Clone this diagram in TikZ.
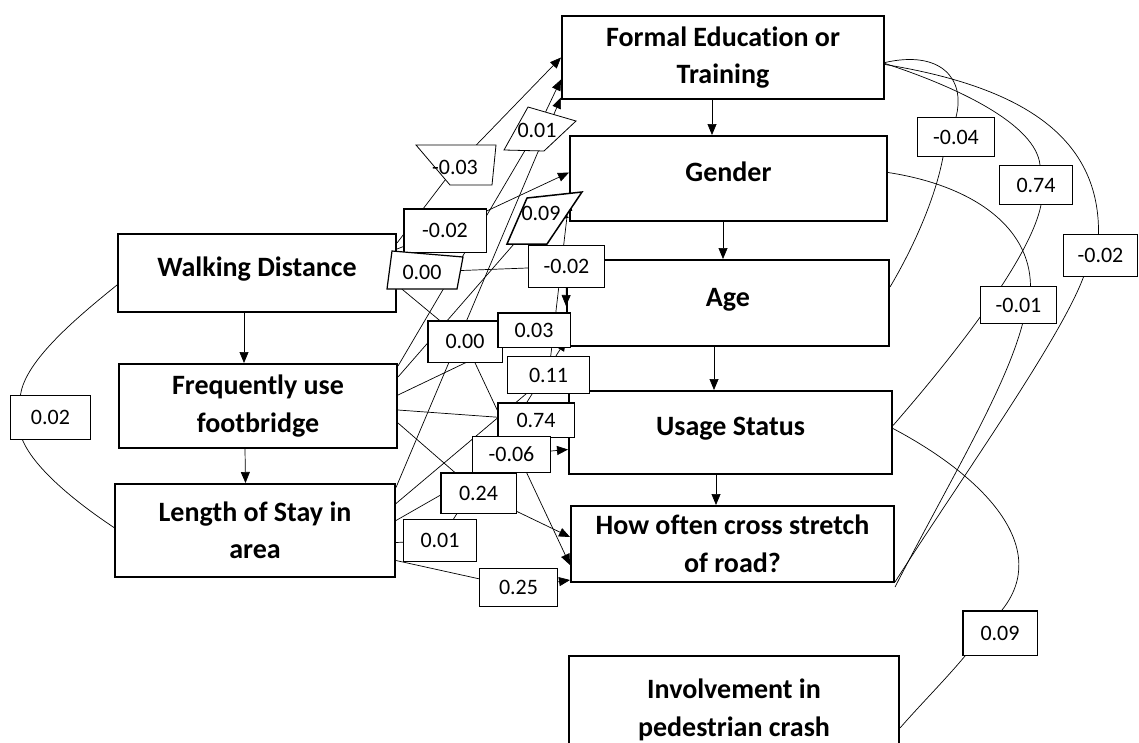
\documentclass[tikz,border=0pt]{standalone}
\usepackage{fontspec}
\setmainfont{Carlito}[Ligatures=NoCommon]
\usetikzlibrary{arrows.meta,backgrounds}

\begin{document}
\begin{tikzpicture}[x=1pt,y=-1pt,
  var/.style={draw,line width=2.2pt,inner sep=0pt,align=center,
    font=\fontsize{28}{37.5}\selectfont\bfseries},
  onel/.style={text height=20pt,text depth=14pt},
  coef/.style={draw,fill=white,line width=0.8pt,inner sep=0pt,
    font=\fontsize{22}{26}\selectfont},
  coefb/.style={coef,line width=1.5pt},
  coefpoly/.style={draw,fill=white,line width=0.8pt},
  coeftxt/.style={inner sep=0pt,font=\fontsize{22}{26}\selectfont},
  effect/.style={line width=0.7pt,-{Triangle[length=11pt,width=9pt]}},
  link/.style={line width=0.7pt}
]
\useasboundingbox (0,0) rectangle (1139,742);

% right column
\node[var,minimum width=321.8pt,minimum height=82.8pt] (formal) at (723,57.5) {Formal Education or\\Training};
\node[var,onel,minimum width=316.8pt,minimum height=84.8pt] (gender) at (728.5,178.5) {Gender};
\node[var,onel,minimum width=321.8pt,minimum height=85.8pt] (age) at (728,303) {Age};
\node[var,onel,minimum width=322.8pt,minimum height=82.8pt] (usage) at (730.5,432.5) {Usage Status};
\node[var,minimum width=322.8pt,minimum height=75.8pt] (howoften) at (732.5,544) {How often cross stretch\\of road?};
\node[var,minimum width=329.8pt,minimum height=107.8pt] (involve) at (734,710) {Involvement in\\pedestrian crash};

% left column
\node[var,onel,minimum width=277.8pt,minimum height=77.8pt] (wd) at (257,273) {Walking Distance};
\node[var,minimum width=277.8pt,minimum height=83.8pt] (fuf) at (258,406) {Frequently use\\footbridge};
\node[var,minimum width=279.8pt,minimum height=92.8pt] (lsa) at (255,530.5) {Length of Stay in\\area};

% coefficients, middle
\draw[coefpoly] (416,145) -- (496,145) -- (492,185) -- (450,185) -- cycle;
\node[coeftxt] (l1) at (455,167) {-0.03};
\draw[coefpoly] (528,107) -- (576,121) -- (544,151) -- (504,150) -- cycle;
\node[coeftxt] (l2) at (537,130) {0.01};
\node[coefb,minimum width=82.5pt,minimum height=43.5pt] (l3) at (445,230.5) {-0.02};
\draw[coefpoly,line width=1.2pt] (392,251) -- (463,257) -- (457,289) -- (387,289) -- cycle;
\node[coeftxt] (l4) at (422,272) {0.00};
\draw[coefpoly,line width=1.5pt] (527,198) -- (582,192) -- (547,244) -- (507,244) -- cycle;
\node[coeftxt] (l5) at (541,213) {0.09};
\node[coef,minimum width=76pt,minimum height=42pt] (l6) at (566.5,266.5) {-0.02};
\node[coefb,minimum width=74.5pt,minimum height=41.5pt] (l7) at (465,341.5) {0.00};
\node[coefb,minimum width=72.5pt,minimum height=34.5pt] (l8) at (534,330) {0.03};
\node[coef,minimum width=82pt,minimum height=37pt] (l9) at (548.5,375) {0.11};
\node[coefb,minimum width=76.5pt,minimum height=34.5pt] (l10) at (536,420) {0.74};
\node[coef,minimum width=78pt,minimum height=36pt] (l11) at (511.5,454.5) {-0.06};
\node[coefb,minimum width=75.5pt,minimum height=40.5pt] (l12) at (478.5,493) {0.24};
\node[coef,minimum width=73pt,minimum height=42pt] (l13) at (440,540.5) {0.01};
\node[coef,minimum width=78pt,minimum height=38pt] (l14) at (518.5,587.5) {0.25};

% coefficients, sides
\node[coef,minimum width=80pt,minimum height=44pt] (c0) at (50.5,417.5) {0.02};
\node[coef,minimum width=77pt,minimum height=39pt] (r1) at (956,137) {-0.04};
\node[coef,minimum width=73pt,minimum height=39pt] (r2) at (1036,185) {0.74};
\node[coef,minimum width=74pt,minimum height=42pt] (r3) at (1100.5,255.5) {-0.02};
\node[coef,minimum width=76pt,minimum height=37pt] (r4) at (1018.5,305) {-0.01};
\node[coefb,minimum width=74.5pt,minimum height=44.5pt] (r5) at (1000,633) {0.09};

\begin{scope}[on background layer]
% chain arrows
\draw[effect] ([xshift=-11pt]formal.south) -- ([xshift=-16.5pt]gender.north);
\draw[effect] ([xshift=-5.5pt]gender.south) -- ([xshift=-5pt]age.north);
\draw[effect] ([xshift=-14pt]age.south) -- ([xshift=-16.5pt]usage.north);
\draw[effect] ([xshift=-14.5pt]usage.south) -- ([xshift=-16.5pt]howoften.north);
\draw[effect] ([xshift=-13pt]wd.south) -- ([xshift=-14pt]fuf.north);
\draw[effect] ([xshift=-13pt]fuf.south) -- ([xshift=-9.5pt]lsa.north);

% walking distance
\draw[effect] ([yshift=30pt]wd.east) -- (l1.center) -- (formal.west);
\draw[effect] ([yshift=24pt]wd.east) -- (l3.center) -- ([yshift=6pt]gender.west);
\draw[effect] ([yshift=5pt]wd.east) -- (l4.center) -- (l6.center) -- ([yshift=-3pt]age.west);
\draw[effect] ([yshift=-12pt]wd.east) -- (l7.center) -- ([yshift=-21pt]howoften.west);
% frequently use footbridge
\draw[effect] ([yshift=40pt]fuf.east) -- (l2.center) -- ([yshift=-22pt]formal.west);
\draw[effect] ([yshift=29pt]fuf.east) -- (l5.center) -- ([yshift=-39pt]gender.west);
\draw[effect] ([yshift=11pt]fuf.east) -- (l8.center) -- ([yshift=-27pt]age.west);
\draw[effect] ([yshift=-4pt]fuf.east) -- (l10.center) -- ([yshift=7pt]usage.west);
\draw[effect] ([yshift=-17pt]fuf.east) -- (l12.center) -- ([yshift=7pt]howoften.west);
% length of stay
\draw[effect] ([yshift=43pt]lsa.east) -- ([yshift=-40pt]formal.west);
\draw[effect] ([yshift=27pt]lsa.east) -- (l9.center) -- ([yshift=-21pt]gender.west);
\draw[effect] ([yshift=10pt]lsa.east) -- (l11.center) -- ([yshift=-17pt]usage.west);
\draw[effect] ([yshift=-12pt]lsa.east) -- (l13.center) -- ([yshift=-37pt]age.west);
\draw[effect] ([yshift=-30pt]lsa.east) -- (l14.center) -- ([yshift=-36pt]howoften.west);

% covariances
\draw[link] ([yshift=-12pt]wd.west) .. controls (80,315) and (25,360) .. ([xshift=-30pt]c0.north);
\draw[link] ([xshift=-28pt]c0.south) .. controls (35,470) and (80,505) .. ([yshift=3pt]lsa.west);
\draw[link] ([yshift=-5pt]formal.east) .. controls (940,50) and (966,78) .. (r1.north);
\draw[link] ([xshift=-13pt]r1.south) .. controls (935,200) and (912,250) .. ([yshift=16pt]age.east);
\draw[link] ([yshift=-6pt]formal.east) .. controls (960,88) and (1036,125) .. ([xshift=4pt]r2.north);
\draw[link] ([xshift=5pt]r2.south) .. controls (1030,260) and (950,360) .. ([yshift=7pt]usage.east);
\draw[link] ([yshift=-7pt]formal.east) .. controls (1010,85) and (1100,130) .. ([xshift=-2pt]r3.north);
\draw[link] ([xshift=-17pt]r3.south) .. controls (1060,340) and (960,480) .. ([yshift=-38pt]howoften.east);
\draw[link] ([yshift=6pt]gender.east) .. controls (970,185) and (1030,225) .. ([xshift=12pt]r4.north);
\draw[link] ([xshift=4pt]r4.south) .. controls (1005,390) and (950,480) .. ([yshift=-43pt]howoften.east);
\draw[link] ([yshift=4pt]usage.east) .. controls (990,480) and (1050,550) .. ([xshift=2pt]r5.north);
\draw[link] ([xshift=-35pt]r5.south) .. controls (945,680) and (920,705) .. ([yshift=-18pt]involve.east);
\end{scope}
\end{tikzpicture}
\end{document}
